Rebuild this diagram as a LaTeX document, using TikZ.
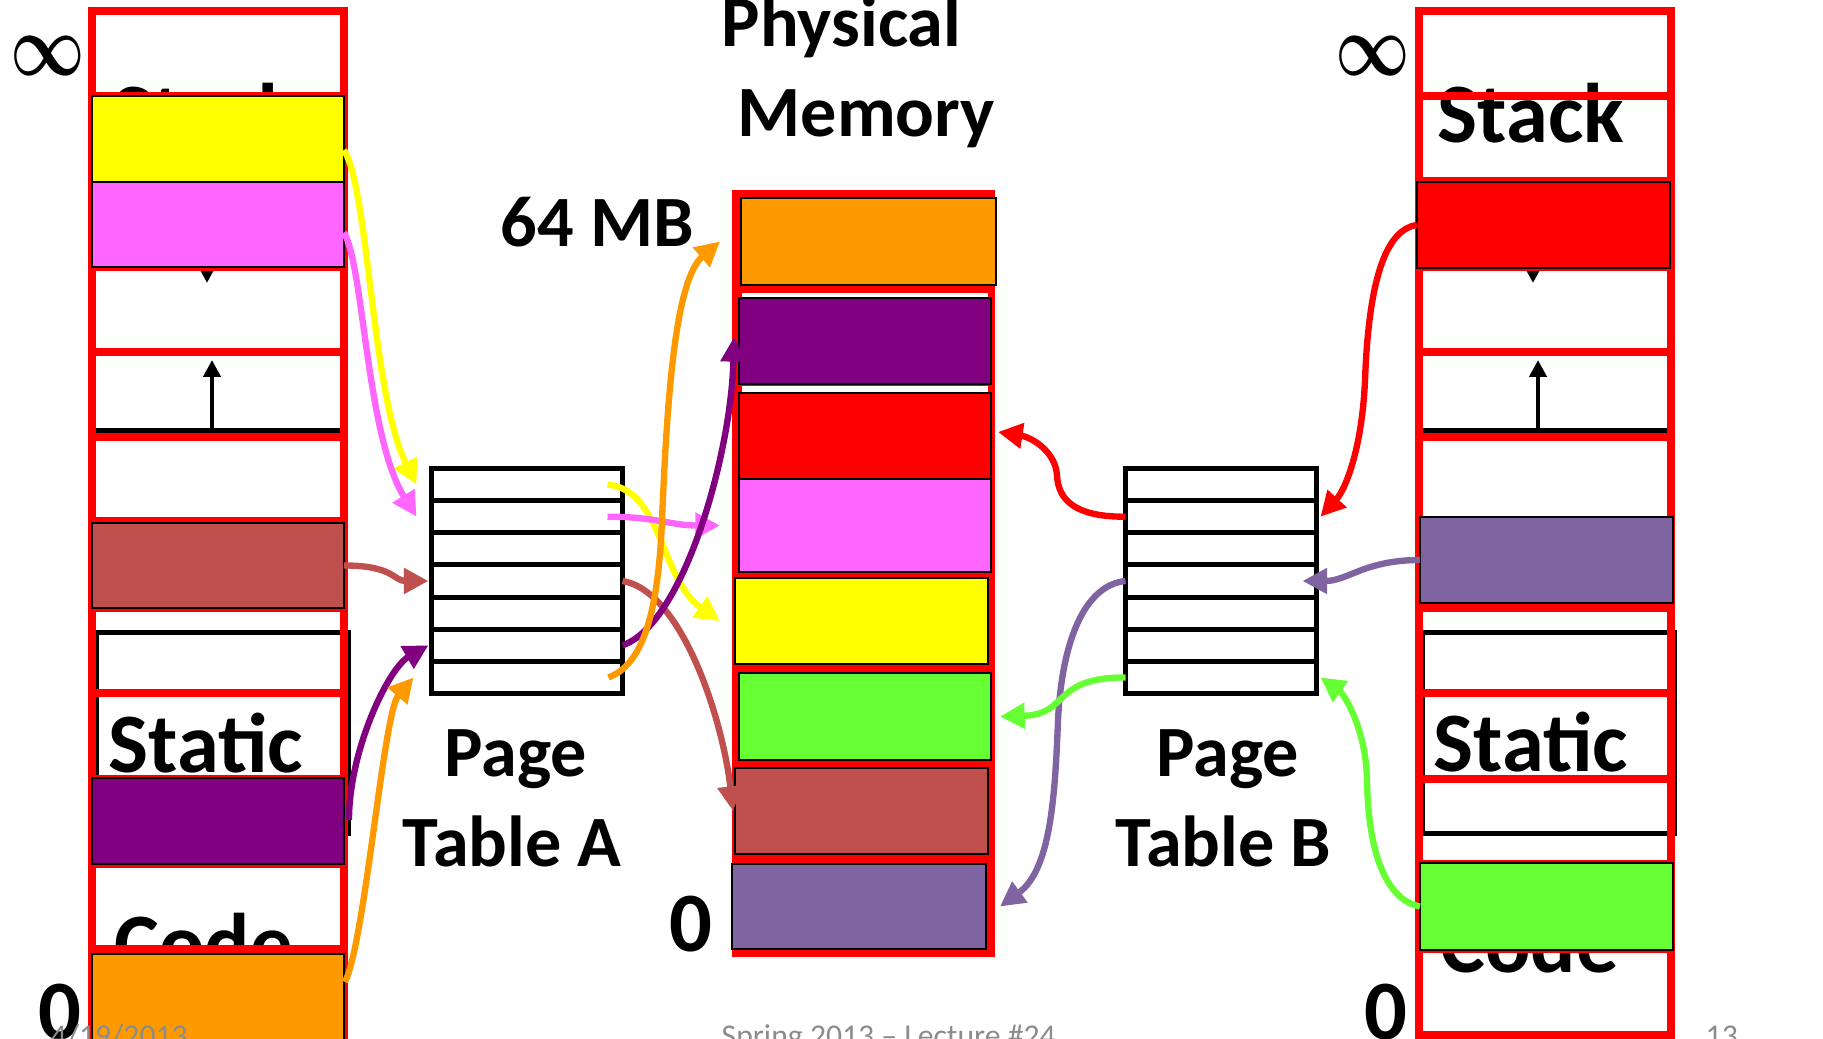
\documentclass[tikz,border=0pt]{standalone}
\usepackage{fontspec}
\setmainfont{Carlito}
\usetikzlibrary{arrows.meta,calc}
\definecolor{cYel}{HTML}{FFFF00}
\definecolor{cPink}{HTML}{FF66FF}
\definecolor{cBrn}{HTML}{C0504D}
\definecolor{cPur}{HTML}{800080}
\definecolor{cOrg}{HTML}{FF9900}
\definecolor{cRed}{HTML}{FF0000}
\definecolor{cLav}{HTML}{8064A2}
\definecolor{cGrn}{HTML}{66FF33}
\definecolor{cGray}{HTML}{8C8C8C}
\newcommand\pbox[6]{\node[cbox, fill=#2, minimum width={(#5-#3)*0.2838pt}, minimum height={(#6-#4)*0.2838pt}] (#1) at ({(#3+#5)/2},{(#4+#6)/2}) {};}
\begin{document}
\begin{tikzpicture}[x=0.2838pt, y=-0.2838pt,
 pageframe/.style={draw=cRed, line width=2.27pt},
 cbox/.style={draw=black, line width=0.7pt, inner sep=0pt, outer sep=0pt},
 trow/.style={draw=black, fill=white, line width=1.42pt, inner sep=0pt, outer sep=0pt, minimum width={191*0.2838pt}, minimum height={32.1429*0.2838pt}},
 conn/.style={line width=1.8pt, -{Triangle[length=7pt,width=7pt]}},
 growarrow/.style={line width=1.35pt, -{Triangle[length=4.8pt,width=4.8pt]}},
 structline/.style={draw=black, line width=1.42pt},
 bigtxt/.style={font=\bfseries\fontsize{24}{28}\selectfont, inner sep=0pt, anchor=base west},
 midtxt/.style={font=\bfseries\fontsize{20.5}{24}\selectfont, inner sep=0pt, anchor=base west},
 foot/.style={font=\fontsize{9}{11}\selectfont, text=cGray, inner sep=0pt, anchor=base west},
 inftxt/.style={font=\fontsize{40}{40}\selectfont, inner sep=0pt}]
\useasboundingbox (0,0) rectangle (1823,1039);

% ---- background address-space structure (left) ----
\node[bigtxt] (stackA) at (112,143) {Stack};
\node[bigtxt] (staticA) at (108,773) {Static};
\node[bigtxt] (codeA) at (114,973) {Code};
\draw[growarrow] (207,200) -- (207,283);
\draw[growarrow] (212,431) -- (212,360);
\draw[structline] (92,431) -- (344,431);
\draw[structline] (96,633) rectangle (348,834);

% ---- background address-space structure (right) ----
\node[bigtxt] (stackB) at (1437,143) {Stack};
\node[bigtxt] (staticB) at (1433,772) {Static};
\node[bigtxt] (codeB) at (1440,973) {Code};
\draw[growarrow] (1533,200) -- (1533,283);
\draw[growarrow] (1538,431) -- (1538,360);
\draw[structline] (1418,431) -- (1670,431);
\draw[structline] (1422,633) rectangle (1674,834);

% ---- red page frames ----
\foreach \a/\b in {11/96,96/181,181/267,267/352,352/437,437/521,521/608,608/693,693/779,779/864,864/949,949/1035}{
  \draw[pageframe] (92,\a) rectangle (344,\b);
  \draw[pageframe] (1418.5,\a) rectangle (1670.5,\b);
}

% ---- physical memory frame ----
\fill[cRed] (732,190) rectangle (995,957);
\fill[white] (742,293) rectangle (988,298);
\fill[white] (742,386) rectangle (988,392);

% ---- coloured pages: process A ----
\pbox{yA}{cYel}{92}{96}{344}{182}
\pbox{pA}{cPink}{92}{182}{344}{267}
\pbox{bA}{cBrn}{92}{523}{344}{608}
\pbox{vA}{cPur}{92}{778}{344}{864}
\pbox{oA}{cOrg}{92}{954}{344}{1040}
% ---- coloured pages: process B ----
\pbox{rB}{cRed}{1417}{182}{1670}{268}
\pbox{lB}{cLav}{1420}{517}{1673}{603}
\pbox{gB}{cGrn}{1420}{863}{1673}{950}
% ---- physical memory pages ----
\pbox{pmO}{cOrg}{741}{198}{996}{285}
\pbox{pmV}{cPur}{739}{298}{991}{384}
\pbox{pmR}{cRed}{739}{393}{991}{479}
\pbox{pmP}{cPink}{739}{479}{991}{572}
\pbox{pmY}{cYel}{735}{578}{988}{664}
\pbox{pmG}{cGrn}{739}{673}{991}{760}
\pbox{pmBr}{cBrn}{735}{768}{988}{854}
\pbox{pmL}{cLav}{732}{864}{986}{949}

% ---- page tables ----
\foreach \i in {1,...,7}{
  \node[trow] (tA\i) at (527,{468.5+(\i-0.5)*32.1429}) {};
  \node[trow] (tB\i) at (1221,{468.5+(\i-0.5)*32.1429}) {};
}

% ---- connectors: A pages -> table A ----
\draw[conn, draw=cYel] ($(yA.east)+(0,11)$) .. controls +(25,40) and +(-45,-90) .. ($(tA1.west)+(-15,0)$);
\draw[conn, draw=cPink] ($(pA.east)+(0,8)$) .. controls +(20,35) and +(-50,-80) .. ($(tA2.west)+(-15,0)$);
\draw[conn, draw=cBrn] (bA.east) .. controls +(50,0) and +(-35,0) .. ($(tA4.west)+(-3,0)$);
\draw[conn, draw=cPur] ($(vA.east)+(5,-1)$) .. controls +(0,-70) and +(-40,23) .. ($(tA6.west)+(-3,0)$);
\draw[conn, draw=cOrg] ($(oA.east)+(1,-15)$) .. controls +(20,-40) and +(-30,35) .. ($(tA7.west)+(-18,0)$);

% ---- connectors: table A -> physical ----
\draw[conn, draw=cYel] ($(tA1.east)+(-15,0)$) .. controls +(55,5) and +(-60,-42) .. ($(pmY.west)+(-15,0)$);
\draw[conn, draw=cPink] ($(tA2.east)+(-15,0)$) .. controls +(50,0) and +(-50,0) .. ($(pmP.west)+(-19,0)$);
\draw[conn, draw=cBrn] (tA4.east) .. controls +(60,10) and +(-10,-90) .. ($(pmBr.west)+(-2,0)$);
\draw[conn, draw=cPur] (tA6.east) .. controls +(60,-20) and +(-3,120) .. ($(pmV.west)+(-5,-4)$);
\draw[conn, draw=cOrg] ($(tA7.east)+(-14,0)$) .. controls +(32,-12) and (658,620) .. (662,520) .. controls (667,400) and (675,280) .. ($(pmO.west)+(-21,0)$);

% ---- connectors: B pages -> table B ----
\draw[conn, draw=cRed] (rB.west) .. controls (1380,230) and (1368,300) .. (1365,380) .. controls (1362,450) and (1345,490) .. ($(tB2.east)+(4,0)$);
\draw[conn, draw=cLav] (lB.west) .. controls +(-55,0) and +(45,0) .. ($(tB4.east)+(-14,0)$);
\draw[conn, draw=cGrn] (gB.west) .. controls (1385,900) and (1368,850) .. (1367,780) .. controls (1366,730) and (1345,695) .. ($(tB7.east)+(4,0)$);

% ---- connectors: table B -> physical ----
\draw[conn, draw=cRed] (tB2.west) .. controls (1075,517) and (1058,500) .. (1057,475) .. controls (1055,450) and (1030,437) .. ($(pmR.east)+(7,-4)$);
\draw[conn, draw=cLav] (tB4.west) .. controls (1085,585) and (1062,640) .. (1058,720) .. controls (1055,800) and (1050,870) .. ($(pmL.east)+(14,0)$);
\draw[conn, draw=cGrn] (tB7.west) .. controls +(-75,0) and +(70,-2) .. ($(pmG.east)+(9,0)$);

% ---- labels ----
\node[midtxt] (phys) at (721,47) {Physical};
\node[midtxt] (mem) at (737,137) {Memory};
\node[midtxt] (mb) at (500,247) {64 MB};
\node[midtxt] (pgA) at (444,777) {Page};
\node[midtxt] (tbA) at (402,867) {Table A};
\node[midtxt] (pgB) at (1156,777) {Page};
\node[midtxt] (tbB) at (1115,867) {Table B};
\node[bigtxt] (zA) at (38,1040) {0};
\node[bigtxt] (zM) at (669,952) {0};
\node[bigtxt] (zB) at (1364,1040) {0};
\node[inftxt] (infA) at (48,56) {\scalebox{0.74}[1]{\boldmath$\infty$}};
\node[inftxt] (infB) at (1373,56) {\scalebox{0.74}[1]{\boldmath$\infty$}};

% ---- footer ----
\node[foot] (date) at (50,1047) {4/19/2013};
\node[foot] (course) at (721,1047) {Spring 2013 -- Lecture \#24};
\node[foot] (pnum) at (1705,1047) {13};
\end{tikzpicture}
\end{document}
